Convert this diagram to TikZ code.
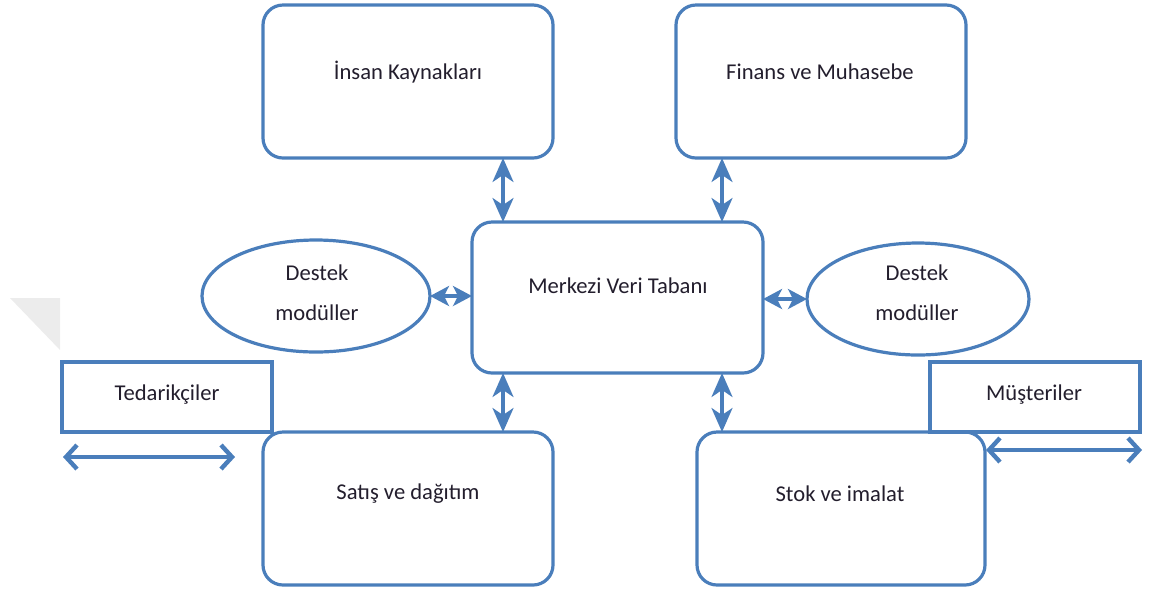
\documentclass[tikz,border=0pt]{standalone}
\usepackage{fontspec}
\setmainfont{Carlito}
\usetikzlibrary{arrows.meta,shapes.geometric}
\definecolor{edge}{RGB}{74,126,187}
\definecolor{ink}{RGB}{35,30,45}
\definecolor{faintgrey}{RGB}{236,236,236}
\begin{document}
\begin{tikzpicture}[x=0.5pt,y=-0.5pt,
  every node/.style={inner sep=0pt,outer sep=0pt},
  module/.style={draw=edge,line width=1.6pt,rounded corners=10pt,fill=white},
  party/.style={draw=edge,line width=1.6pt,fill=white},
  support/.style={ellipse,draw=edge,line width=1.6pt,fill=white},
  caption/.style={text=ink,font=\fontsize{11.3}{20}\selectfont,align=center},
  link/.style={draw=edge,line width=1.6pt,
    {Stealth[length=12pt,width=10.5pt,inset=3.5pt]}-{Stealth[length=12pt,width=10.5pt,inset=3.5pt]}},
  short/.style={draw=edge,line width=1.6pt,
    {Stealth[length=9.5pt,width=10pt,inset=2.5pt]}-{Stealth[length=9.5pt,width=10pt,inset=2.5pt]}},
  flow/.style={draw=edge,line width=2.2pt,
    {Straight Barb[length=5.5pt,width=12pt]}-{Straight Barb[length=5.5pt,width=12pt]}}]
\useasboundingbox (0,0) rectangle (1150,591);

% faint corner mark on the left edge
\fill[faintgrey] (10,298) -- (60,298) -- (60,350) -- cycle;

% module boxes
\node[module,minimum width=145pt,minimum height=76.5pt] (hr)   at (408,81.5)  {};
\node[module,minimum width=145pt,minimum height=76.5pt] (fin)  at (821,81.5)  {};
\node[module,minimum width=145.5pt,minimum height=75.5pt] (db) at (617.5,297.5) {};
\node[module,minimum width=145pt,minimum height=76.5pt] (sat)  at (408,508.5) {};
\node[module,minimum width=144pt,minimum height=76.5pt] (stok) at (841,508.5) {};

% support modules
\node[support,minimum width=114pt,minimum height=56pt] (dl) at (316,296) {};
\node[support,minimum width=111pt,minimum height=56pt] (dr) at (918,299) {};

% suppliers and customers
\node[party,minimum width=105pt,minimum height=35pt] (ted) at (167,397) {};
\node[party,minimum width=105pt,minimum height=35pt] (mus) at (1035,397) {};

% captions
\node[caption] (thr)   at (408,72)  {İnsan Kaynakları};
\node[caption] (tfin)  at (820,72)  {Finans ve Muhasebe};
\node[caption] (tdb)   at (618,286) {Merkezi Veri Tabanı};
\node[caption] (tdl)   at (317,293) {Destek\\modüller};
\node[caption] (tdr)   at (917,293) {Destek\\modüller};
\node[caption] (tted)  at (167,395) {Tedarikçiler};
\node[caption] (tmus)  at (1034,395) {Müşteriler};
\node[caption] (tsat)  at (408,494) {Satış ve dağıtım};
\node[caption] (tstok) at (840,494) {Stok ve imalat};

% links to the central database
\draw[link] ([xshift=15.5pt]db.north west |- hr.south) -- ([xshift=15.5pt]db.north west);
\draw[link] ([xshift=-20.5pt]db.north east |- fin.south) -- ([xshift=-20.5pt]db.north east);
\draw[link] ([xshift=15.5pt]db.south west) -- ([xshift=15.5pt]db.south west |- sat.north);
\draw[link] ([xshift=-20.5pt]db.south east) -- ([xshift=-20.5pt]db.south east |- stok.north);
\draw[short] (dl.east) -- (dl.east -| db.west);
\draw[short] (db.east |- dr.west) -- (dr.west);

% supply and delivery flows
\coordinate (sa) at (63,457);
\coordinate (sb) at (235,457);
\coordinate (ma) at (986,450);
\coordinate (mb) at (1142,450);
\draw[flow] (sa) -- (sb);
\draw[flow] (ma) -- (mb);
\end{tikzpicture}
\end{document}
